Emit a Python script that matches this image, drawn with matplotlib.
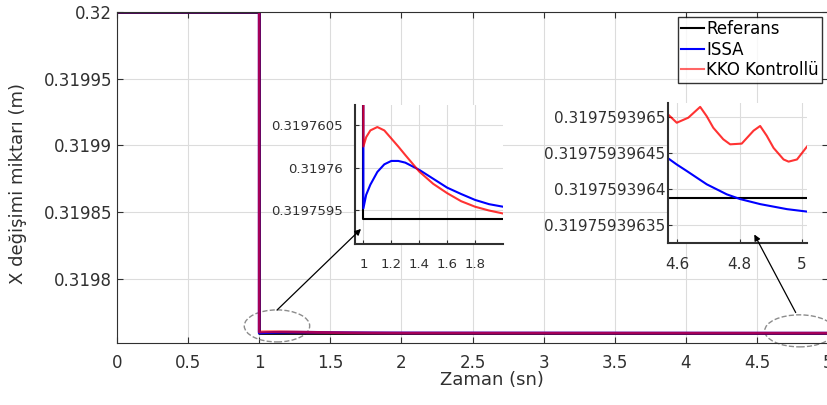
import numpy as np
import matplotlib
matplotlib.use("Agg")
import matplotlib.pyplot as plt
from matplotlib.patches import Ellipse

plt.rcParams['font.family'] = ['DejaVu Sans']

# values
initial_value = 0.32
step_time = 1.0
end_time = 5.02
ref_value = 0.319759396388

# early window (1..2 s), offsets from 0.31976 in 1e-7 m
early_t = [1.0, 1.02, 1.05, 1.1, 1.15, 1.2, 1.25, 1.3, 1.4, 1.5, 1.6, 1.7, 1.8, 1.9, 2.0]
early_issa = [-4.8, -3.2, -2.0, -0.5, 0.4, 0.8, 0.8, 0.6, -0.25, -1.3, -2.35, -3.1, -3.8, -4.3, -4.6]
early_kko = [2.5, 3.6, 4.4, 4.8, 4.4, 3.45, 2.5, 1.5, -0.45, -1.9, -3.0, -3.95, -4.6, -5.05, -5.4]

# late window (4.57..5 s), offsets from 0.3197593964 in 1e-11 m
late_t_issa = [4.570, 4.599, 4.631, 4.695, 4.759, 4.802, 4.866, 4.952, 5.018]
late_issa = [4.3, 3.4, 2.5, 0.65, -0.74, -1.4, -2.1, -2.8, -3.15]
late_t_kko = [4.570, 4.599, 4.636, 4.674, 4.695, 4.716, 4.748, 4.770, 4.807,
              4.845, 4.866, 4.887, 4.909, 4.941, 4.957, 4.984, 5.018]
late_kko = [10.4, 9.2, 9.9, 11.4, 10.1, 8.5, 6.9, 6.2, 6.3,
            8.1, 8.75, 7.4, 5.7, 4.1, 3.8, 4.1, 6.0]

main_xticks = [0, 0.5, 1, 1.5, 2, 2.5, 3, 3.5, 4, 4.5, 5]
main_xlabels = ['0', '0.5', '1', '1.5', '2', '2.5', '3', '3.5', '4', '4.5', '5']
main_yticks = [0.3198, 0.31985, 0.3199, 0.31995, 0.32]
main_ylabels = ['0.3198', '0.31985', '0.3199', '0.31995', '0.32']
in1_xticks = [1, 1.2, 1.4, 1.6, 1.8]
in1_xlabels = ['1', '1.2', '1.4', '1.6', '1.8']
in1_yticks = [0.3197595, 0.31976, 0.3197605]
in1_ylabels = ['0.3197595', '0.31976', '0.3197605']
in2_xticks = [4.6, 4.8, 5]
in2_xlabels = ['4.6', '4.8', '5']
in2_yticks = [0.31975939635, 0.3197593964, 0.31975939645, 0.3197593965]
in2_ylabels = ['0.31975939635', '0.3197593964', '0.31975939645', '0.3197593965']

# build full series
ref_t = [0, step_time, step_time, end_time]
ref_x = [initial_value, initial_value, ref_value, ref_value]
issa_t = [0, step_time] + early_t + late_t_issa
issa_x = ([initial_value, initial_value]
          + [0.31976 + d * 1e-7 for d in early_issa]
          + [0.3197593964 + d * 1e-11 for d in late_issa])
kko_t = [0, step_time] + early_t + late_t_kko
kko_x = ([initial_value, initial_value]
         + [0.31976 + d * 1e-7 for d in early_kko]
         + [0.3197593964 + d * 1e-11 for d in late_kko])

W, H = 827, 405
fig = plt.figure(figsize=(W / 100, H / 100), dpi=100)


def frame(l, t, r, b):
    return [l / W, 1 - b / H, (r - l) / W, (b - t) / H]


def draw_lines(ax, lw, red_alpha):
    ax.plot(ref_t, ref_x, color='k', lw=lw, label='Referans')
    ax.plot(issa_t, issa_x, color='b', lw=lw, label='ISSA')
    ax.plot(kko_t, kko_x, color='r', lw=lw, alpha=red_alpha, label='KKO Kontrollü')


grid_kw = dict(color='#dcdcdc', lw=0.8)
axis_col = '#303030'

# main axes
ax = fig.add_axes(frame(117, 12, 828, 343))
draw_lines(ax, 2.0, 0.65)
ax.set_xlim(0, 5)
ax.set_ylim(0.319752, 0.32)
ax.set_xticks(main_xticks, main_xlabels)
ax.set_yticks(main_yticks, main_ylabels)
ax.tick_params(direction='in', length=4, labelsize=12, colors=axis_col,
               top=True, right=True)
ax.tick_params(axis='x', pad=8)
ax.grid(True, **grid_kw)
ax.set_axisbelow(True)
for s in ax.spines.values():
    s.set_color(axis_col)
ax.set_xlabel('Zaman (sn)', fontsize=13, color=axis_col)
ax.set_ylabel('X değişimi miktarı (m)', fontsize=13, color=axis_col)
ax.xaxis.set_label_coords(0.527, -0.085)
ax.yaxis.set_label_coords(-0.126, 0.483)
leg = ax.legend(loc='upper right', bbox_to_anchor=(0.9916, 0.985), borderaxespad=0,
                fontsize=12, frameon=True, fancybox=False, edgecolor='k',
                handlelength=1.4, handletextpad=0.1, labelspacing=0.15,
                borderpad=0.2)
leg.get_frame().set_linewidth(1.0)
for line in leg.get_lines():
    line.set_linewidth(1.5)
    if line.get_label() == 'KKO Kontrollü':
        line.set_alpha(0.6)

# dashed ellipses marking the zoomed regions
ax.add_patch(Ellipse((1.125, 0.3197648), 0.46, 0.000024, fill=False,
                     ls='--', lw=1, color='#8c8c8c', clip_on=False))
ax.add_patch(Ellipse((4.80, 0.3197611), 0.49, 0.000024, fill=False,
                     ls='--', lw=1, color='#8c8c8c', clip_on=False))


def style_inset(a, xticks, xlabels, yticks, ylabels, fs, ypad):
    a.set_xticks(xticks, xlabels)
    a.set_yticks(yticks, ylabels)
    a.tick_params(direction='in', length=3, labelsize=fs, colors=axis_col)
    a.tick_params(axis='x', pad=10)
    a.tick_params(axis='y', pad=ypad)
    a.spines['top'].set_visible(False)
    a.spines['right'].set_visible(False)
    a.spines['left'].set_color(axis_col)
    a.spines['bottom'].set_color(axis_col)
    a.spines['left'].set_linewidth(1.5)
    a.spines['bottom'].set_linewidth(1.5)
    a.grid(True, **grid_kw)
    a.set_axisbelow(True)


# inset 1
ax1 = fig.add_axes(frame(355, 105, 503, 244))
draw_lines(ax1, 1.5, 0.8)
ax1.set_xlim(0.94, 2.0)
ax1.set_ylim(0.3197591, 0.31976074)
style_inset(ax1, in1_xticks, in1_xlabels, in1_yticks, in1_ylabels, 9.5, 9)

# inset 2
ax2 = fig.add_axes(frame(668, 103, 807, 243))
draw_lines(ax2, 1.5, 0.8)
ax2.set_xlim(4.571, 5.016)
ax2.set_ylim(0.319759396325, 0.3197593965194)
style_inset(ax2, in2_xticks, in2_xlabels, in2_yticks, in2_ylabels, 11, 2)

# arrows from ellipses to insets
arrow_kw = dict(arrowstyle='-|>', color='k', lw=0.9, mutation_scale=9)
ax1.annotate('', xy=(363 / W, 1 - 227 / H), xycoords='figure fraction',
             xytext=(275 / W, 1 - 312 / H), textcoords='figure fraction',
             arrowprops=arrow_kw, annotation_clip=False)
ax2.annotate('', xy=(753 / W, 1 - 232 / H), xycoords='figure fraction',
             xytext=(797 / W, 1 - 315 / H), textcoords='figure fraction',
             arrowprops=arrow_kw, annotation_clip=False)

fig.savefig('out.png', dpi=100)
